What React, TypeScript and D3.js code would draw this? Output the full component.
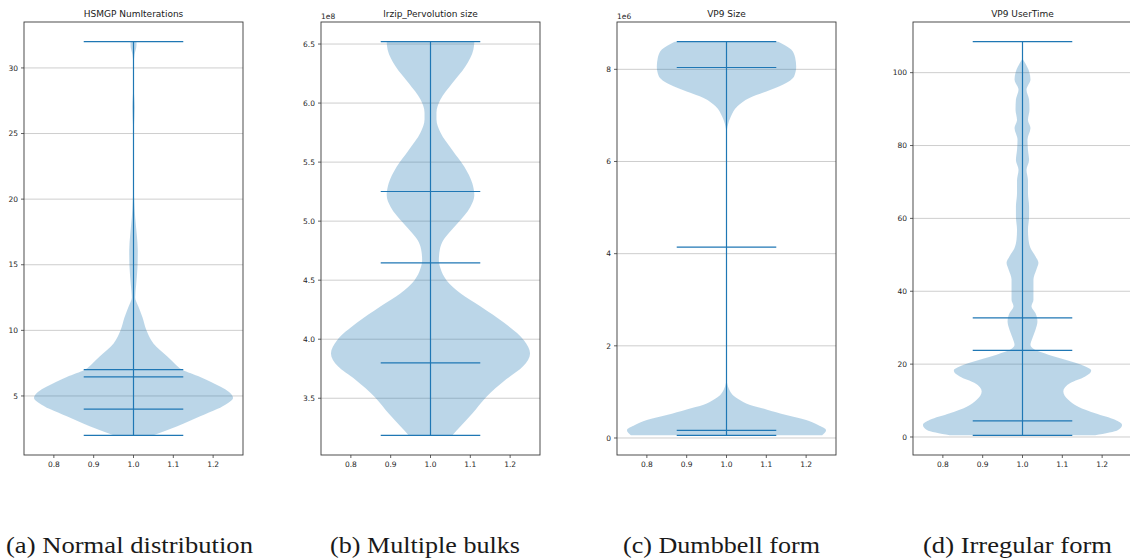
import React from 'react';
import * as d3 from 'd3';

// ---------- data ----------
const panelTitles = ['HSMGP NumIterations', 'lrzip_Pervolution size', 'VP9 Size', 'VP9 UserTime'];
const captions = ['(a) Normal distribution', '(b) Multiple bulks', '(c) Dumbbell form', '(d) Irregular form'];
const offsetLabels = ['', '1e8', '1e6', ''];
const xTicks = [0.8, 0.9, 1.0, 1.1, 1.2];

// (a) HSMGP NumIterations: density profile (value, relative half-width)
const hsmgpValues = [2.0, 2.7, 3.45, 4.0, 4.47, 4.85, 5.3, 5.7, 6.45, 7.0, 7.5, 8.0, 9.0, 10.0, 11.0, 11.8, 12.5, 13.5, 14.8, 16.1, 17.3, 18.6, 19.9, 21.0, 24.0, 25.5, 27.0, 28.5, 30.0, 31.0, 31.7, 32.0];
const hsmgpWidths = [0.2, 0.44, 0.67, 0.84, 0.95, 1.0, 0.96, 0.875, 0.67, 0.49, 0.41, 0.34, 0.2, 0.13, 0.09, 0.05, 0.017, 0.027, 0.04, 0.043, 0.033, 0.017, 0.007, 0.002, 0.0, 0.004, 0.012, 0.002, 0.0, 0.01, 0.03, 0.03];
const hsmgpStats = [2.0, 4.0, 6.45, 7.0, 32.0];
const hsmgpTicks = [5, 10, 15, 20, 25, 30];

// (b) lrzip Pervolution size (x1e8)
const lrzipValues = [3.186, 3.26, 3.37, 3.51, 3.66, 3.77, 3.88, 3.99, 4.14, 4.28, 4.39, 4.5, 4.6, 4.67, 4.76, 4.84, 4.9, 4.98, 5.12, 5.22, 5.32, 5.46, 5.6, 5.75, 5.86, 5.92, 6.03, 6.17, 6.31, 6.45, 6.52];
const lrzipWidths = [0.22, 0.3, 0.42, 0.56, 0.76, 0.93, 1.0, 0.94, 0.74, 0.5, 0.3, 0.16, 0.1, 0.084, 0.094, 0.13, 0.185, 0.27, 0.4, 0.44, 0.42, 0.34, 0.22, 0.1, 0.06, 0.06, 0.1, 0.22, 0.35, 0.43, 0.44];
const lrzipStats = [3.186, 3.8, 4.647, 5.251, 6.52];
const lrzipTicks = [3.5, 4.0, 4.5, 5.0, 5.5, 6.0, 6.5];

// (c) VP9 Size (x1e6)
const vp9SizeValues = [0.058, 0.17, 0.28, 0.39, 0.5, 0.62, 0.72, 0.83, 0.94, 1.05, 1.2, 1.3, 6.6, 6.76, 6.98, 7.2, 7.38, 7.52, 7.67, 7.85, 8.06, 8.25, 8.43, 8.6];
const vp9SizeWidths = [0.96, 1.0, 0.92, 0.8, 0.6, 0.4, 0.23, 0.13, 0.06, 0.027, 0.005, 0.0, 0.0, 0.01, 0.045, 0.11, 0.23, 0.4, 0.57, 0.68, 0.7, 0.69, 0.65, 0.52];
const vp9SizeStats = [0.058, 0.167, 4.14, 8.04, 8.6];
const vp9SizeTicks = [0, 2, 4, 6, 8];

// (d) VP9 UserTime
const vp9TimeValues = [0.46, 1.9, 3.3, 4.7, 6.5, 8.3, 10.2, 12.5, 14.8, 16.6, 18.2, 19.8, 21.2, 22.6, 24.0, 25.3, 27.2, 29.4, 31.7, 34.0, 35.9, 37.7, 40.5, 43.2, 46.0, 47.8, 49.6, 51.9, 54.2, 56.8, 60.5, 63.2, 66.9, 70.5, 73.3, 76.0, 78.8, 81.6, 84.8, 87.0, 89.8, 92.6, 95.3, 98.1, 100.4, 102.7, 104.0, 108.5];
const vp9TimeWidths = [0.73, 0.96, 1.0, 0.93, 0.73, 0.56, 0.46, 0.41, 0.48, 0.63, 0.69, 0.59, 0.43, 0.26, 0.12, 0.08, 0.1, 0.13, 0.15, 0.13, 0.09, 0.11, 0.11, 0.11, 0.14, 0.16, 0.13, 0.08, 0.06, 0.055, 0.066, 0.066, 0.055, 0.055, 0.04, 0.066, 0.055, 0.05, 0.08, 0.055, 0.07, 0.066, 0.04, 0.08, 0.066, 0.025, 0.0, 0.0];
const vp9TimeStats = [0.46, 4.4, 23.8, 32.7, 108.5];
const vp9TimeTicks = [0, 20, 40, 60, 80, 100];

// ---------- layout ----------
const PANEL_LEFT = [24, 321, 617, 913];
const PANEL_W = 219;
const TOP = 22;
const BOTTOM = 455;
const CAPTION_CENTER = [129.5, 425, 721.5, 1017.5];
const CAPTION_WIDTH = [247, 190, 197, 189];

const C0 = '#1f77b4';
const tickFont = "'DejaVu Sans', sans-serif";

type PanelSpec = {
  title: string;
  caption: string;
  offset: string;
  values: number[];
  widths: number[];
  stats: number[];
  ticks: number[];
  fmt: (v: number) => string;
};

const panels: PanelSpec[] = [
  { title: panelTitles[0], caption: captions[0], offset: offsetLabels[0], values: hsmgpValues, widths: hsmgpWidths, stats: hsmgpStats, ticks: hsmgpTicks, fmt: d3.format('d') },
  { title: panelTitles[1], caption: captions[1], offset: offsetLabels[1], values: lrzipValues, widths: lrzipWidths, stats: lrzipStats, ticks: lrzipTicks, fmt: d3.format('.1f') },
  { title: panelTitles[2], caption: captions[2], offset: offsetLabels[2], values: vp9SizeValues, widths: vp9SizeWidths, stats: vp9SizeStats, ticks: vp9SizeTicks, fmt: d3.format('d') },
  { title: panelTitles[3], caption: captions[3], offset: offsetLabels[3], values: vp9TimeValues, widths: vp9TimeWidths, stats: vp9TimeStats, ticks: vp9TimeTicks, fmt: d3.format('d') },
];

function Panel({ spec, index }: { spec: PanelSpec; index: number }) {
  const left = PANEL_LEFT[index];
  const right = left + PANEL_W;
  const x = d3.scaleLinear().domain([0.725, 1.275]).range([left, right]);
  const lo = d3.min(spec.stats) as number;
  const hi = d3.max(spec.stats) as number;
  const pad = (hi - lo) * 0.05;
  const y = d3.scaleLinear().domain([lo - pad, hi + pad]).range([BOTTOM, TOP]);

  const pts: [number, number][] = spec.values.map((v, i) => [v, spec.widths[i]]);
  const area = d3
    .area<[number, number]>()
    .y((d) => y(d[0]))
    .x0((d) => x(1 - d[1] * 0.25))
    .x1((d) => x(1 + d[1] * 0.25))
    .curve(d3.curveMonotoneY);

  const cx = x(1);
  return (
    <g>
      <defs>
        <clipPath id={`clip${index}`}>
          <rect x={left} y={TOP} width={PANEL_W} height={BOTTOM - TOP} />
        </clipPath>
      </defs>
      {/* grid */}
      {spec.ticks.map((t) => (
        <line key={`g${t}`} x1={left} x2={right} y1={y(t)} y2={y(t)} stroke="#c8c8c8" strokeWidth={0.9} />
      ))}
      <g clipPath={`url(#clip${index})`}>
        <path d={area(pts) || ''} fill={C0} fillOpacity={0.3} />
        <line x1={cx} x2={cx} y1={y(lo)} y2={y(hi)} stroke={C0} strokeWidth={1.2} />
        {spec.stats.map((s, i) => (
          <line key={`s${i}`} x1={x(0.875)} x2={x(1.125)} y1={y(s)} y2={y(s)} stroke={C0} strokeWidth={1.2} />
        ))}
      </g>
      {/* spines */}
      <rect x={left} y={TOP} width={PANEL_W} height={BOTTOM - TOP} fill="none" stroke="#3a3a3a" strokeWidth={0.9} />
      {/* y ticks */}
      {spec.ticks.map((t) => (
        <g key={`y${t}`}>
          <line x1={left - 3} x2={left} y1={y(t)} y2={y(t)} stroke="#3a3a3a" strokeWidth={0.8} />
          <text x={left - 6} y={y(t) + 2.7} textAnchor="end" fontSize={7.5} fontFamily={tickFont} fill="#262626">
            {spec.fmt(t)}
          </text>
        </g>
      ))}
      {/* x ticks */}
      {xTicks.map((t) => (
        <g key={`x${t}`}>
          <line x1={x(t)} x2={x(t)} y1={BOTTOM} y2={BOTTOM + 3} stroke="#3a3a3a" strokeWidth={0.8} />
          <text x={x(t)} y={BOTTOM + 11.8} textAnchor="middle" fontSize={7.5} fontFamily={tickFont} fill="#262626">
            {d3.format('.1f')(t)}
          </text>
        </g>
      ))}
      {spec.offset && (
        <text x={left} y={19} fontSize={7.5} fontFamily={tickFont} fill="#262626">
          {spec.offset}
        </text>
      )}
      <text x={(left + right) / 2} y={17} textAnchor="middle" fontSize={9} fontFamily={tickFont} fill="#1a1a1a">
        {spec.title}
      </text>
      <text
        x={CAPTION_CENTER[index]}
        y={553}
        textAnchor="middle"
        fontSize={23}
        fontFamily="'Liberation Serif', 'DejaVu Serif', serif"
        fill="#1a1a1a"
        textLength={CAPTION_WIDTH[index]}
        lengthAdjust="spacingAndGlyphs"
      >
        {spec.caption}
      </text>
    </g>
  );
}

export default function App() {
  return (
    <svg
      width={1130}
      height={560}
      viewBox="0 0 1130 560"
      style={{ position: 'absolute', left: 0, top: 0, background: '#fff' }}
    >
      <rect x={0} y={0} width={1130} height={560} fill="#fff" />
      {panels.map((p, i) => (
        <Panel key={i} spec={p} index={i} />
      ))}
    </svg>
  );
}
